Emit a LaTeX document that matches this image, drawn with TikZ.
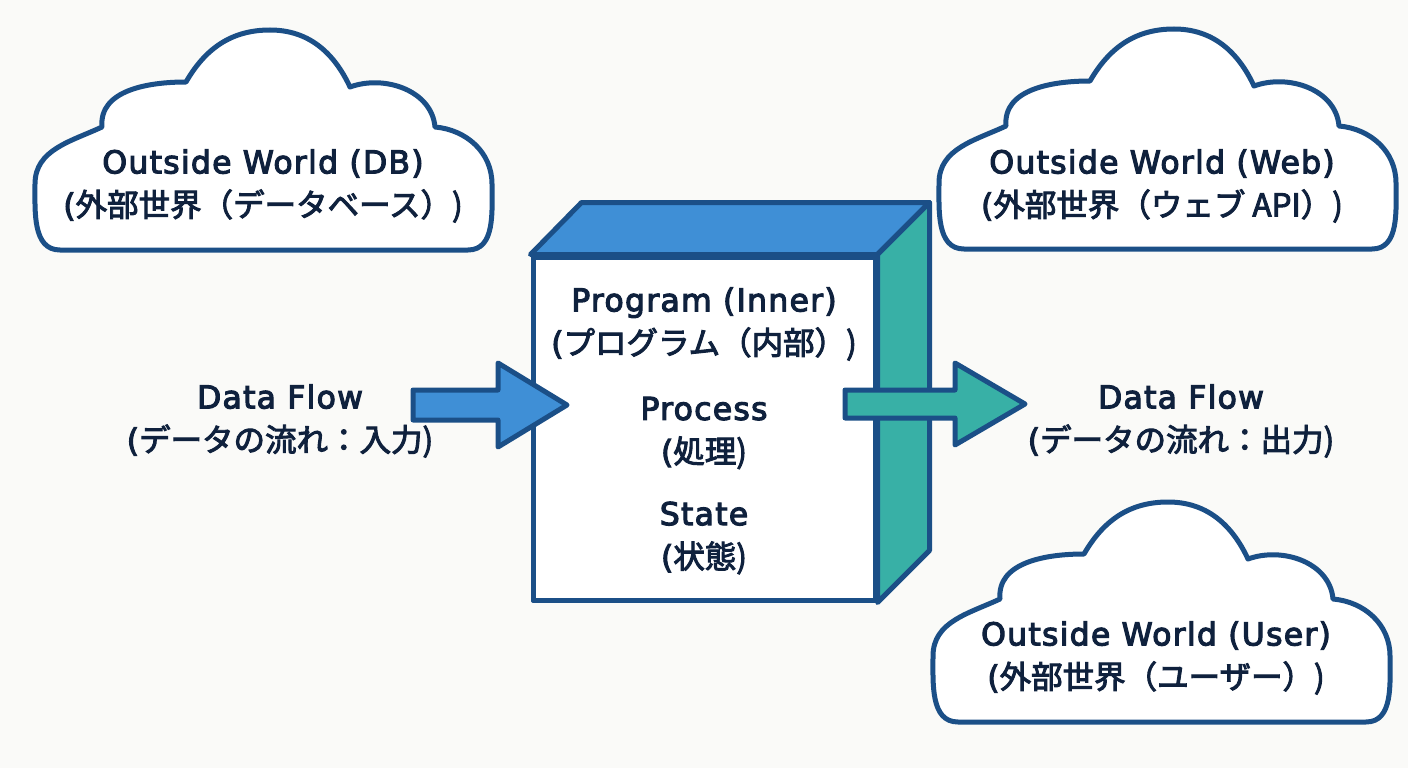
\documentclass[tikz,border=0pt]{standalone}
\usepackage{fontspec}
\setmainfont{DejaVu Sans}[FakeBold=3.5, LetterSpace=4]
\newfontfamily\cjk{Noto Sans CJK JP}[FakeBold=3]
\usetikzlibrary{calc}
\definecolor{navy}{HTML}{1B4F87}
\definecolor{inktext}{HTML}{0F213D}
\definecolor{topblue}{HTML}{3F8FD6}
\definecolor{teal}{HTML}{38B0A6}
\definecolor{bgc}{HTML}{FAFAF8}
\tikzset{
  x=1pt, y=1pt,
  cloudline/.style={draw=navy, line width=5pt, fill=white, line join=round},
  cloudpic/.pic={
    \path[cloudline] (22,0) to[out=180,in=-90] (-3,66) to[out=90,in=205] (64,123)
      to[out=95,in=180] (148,168) to[out=60,in=180] (232,220)
      to[out=0,in=115] (312,163) to[out=20,in=95] (397,123)
      to[out=-5,in=90] (454,66) to[out=-90,in=0] (430,0) -- cycle;
  },
  lbl/.style={text=inktext, font=\fontsize{31.5}{43}\selectfont, align=center, inner sep=0pt},
  facestyle/.style={draw=navy, line width=5pt, line join=round},
  blockarrow/.style={draw=navy, line width=5pt, line join=round}
}
\begin{document}
\begin{tikzpicture}
\fill[bgc] (0,0) rectangle (1408,-768);
\useasboundingbox (0,0) rectangle (1408,-768);

% clouds
\pic at (38,-250) {cloudpic};
\begin{scope}[shift={(942,-249)}, xscale=0.965]
\pic at (0,0) {cloudpic};
\end{scope}
\begin{scope}[shift={(936,-722)}, xscale=0.965]
\pic at (0,0) {cloudpic};
\end{scope}

\node[lbl] (db) at (263,-186) {Outside World (DB)\\(\cjk{外部世界（データベース）})};
\node[lbl] (web) at (1162,-186) {Outside World (Web)\\(\cjk{外部世界（ウェブ} API\cjk{）})};
\node[lbl] (user) at (1156,-658) {Outside World (User)\\(\cjk{外部世界（ユーザー）})};

% program box
\node[facestyle, fill=white, minimum width=342pt, minimum height=343pt, inner sep=0pt] (box) at (704,-428.5) {};
\path[facestyle, fill=topblue] (box.north west) -- ++(51,52) -- ($(box.north east)+(52,52)$) -- (box.north east) -- cycle;
\path[facestyle, fill=teal] (box.north east) -- ++(52,52) -- ($(box.south east)+(52,52)$) -- (box.south east) -- cycle;
\node[facestyle, fill=white, minimum width=342pt, minimum height=343pt, inner sep=0pt] at (box.center) {};

\node[lbl] (prog) at (704,-324) {Program (Inner)\\(\cjk{プログラム（内部）})};
\node[lbl] (proc) at (704,-433) {Process\\(\cjk{処理})};
\node[lbl] (state) at (704,-538) {State\\(\cjk{状態})};

% arrows
\path[blockarrow, fill=topblue] (413,-390) -- (498,-390) -- (498,-363) -- (567,-405) -- (498,-447) -- (498,-420) -- (413,-420) -- cycle;
\path[blockarrow, fill=teal] (845,-390) -- (955,-390) -- (955,-363) -- (1025,-404) -- (955,-445) -- (955,-418) -- (845,-418) -- cycle;

\node[lbl] (inflow) at (280,-421) {Data Flow\\(\cjk{データの流れ：入力})};
\node[lbl] (outflow) at (1181,-421) {Data Flow\\(\cjk{データの流れ：出力})};
\end{tikzpicture}
\end{document}
